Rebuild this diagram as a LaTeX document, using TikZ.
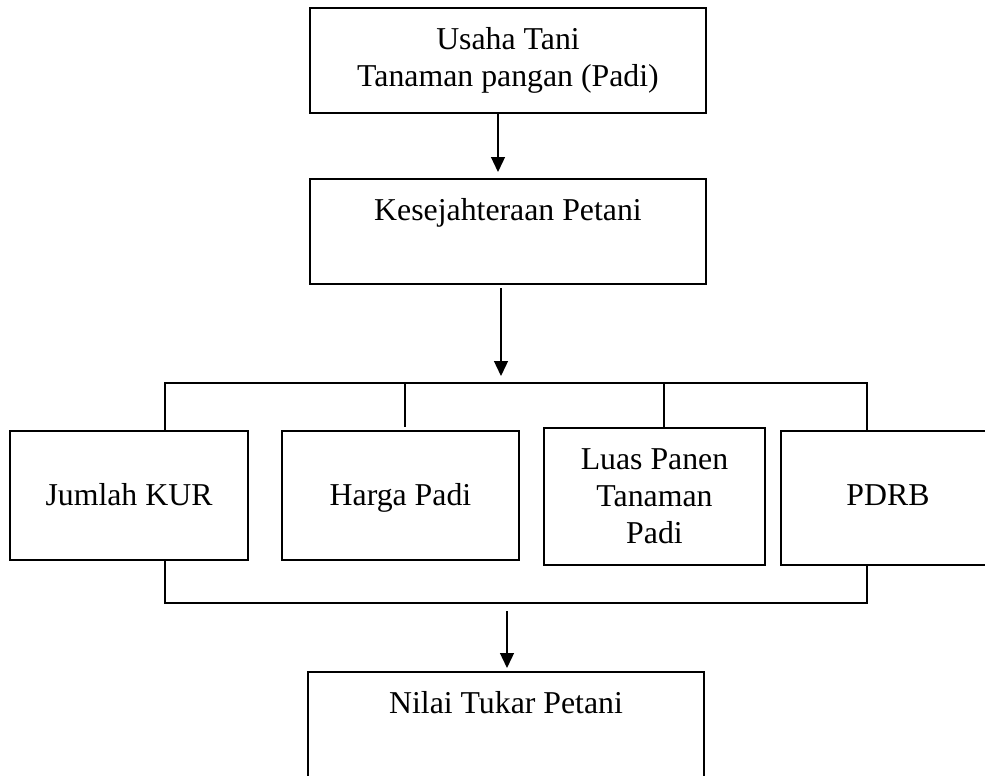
\documentclass[tikz,border=0pt]{standalone}
\usepackage{fontspec}
\setmainfont{Liberation Serif}
\usetikzlibrary{arrows.meta}
\begin{document}
\begin{tikzpicture}[x=1pt,y=-1pt,
  every node/.style={font=\fontsize{31.8}{37}\selectfont},
  box/.style={draw,line width=1.3pt,rectangle,inner sep=0pt,align=center},
  topbox/.style={draw,line width=1.3pt,rectangle,inner xsep=0pt,inner ysep=0pt,text height=41pt,text depth=64pt},
  conn/.style={line width=1.3pt},
  arr/.style={line width=1.3pt,-{Triangle[length=15pt,width=14pt]}}]
\useasboundingbox (0,0) rectangle (985,776);
\clip (0,0) rectangle (985,776);
% top boxes
\node[box,minimum width=396pt,minimum height=105pt] (b1) at (508,60.5) {Usaha Tani\\Tanaman pangan (Padi)};
\node[topbox,minimum width=396pt] (b2) at (508,231.5) {Kesejahteraan Petani};
% factor boxes
\node[box,minimum width=238pt,minimum height=129pt,text height=24pt,text depth=5pt] (k1) at (129,495.5) {Jumlah KUR};
\node[box,minimum width=237pt,minimum height=129pt,text height=24pt,text depth=5pt] (k2) at (400.5,495.5) {Harga Padi};
\node[box,minimum width=221pt,minimum height=137pt] (k3) at (654.5,496.5) {Luas Panen\\Tanaman\\Padi};
\node[box,minimum width=214pt,minimum height=134pt,text height=22pt,text depth=8pt] (k4) at (888,498) {PDRB};
% bottom box
\node[topbox,minimum width=396pt] (b3) at (506,724.5) {Nilai Tukar Petani};
% coordinates
\coordinate (tl) at (165,383);
\coordinate (tr) at (867,383);
\coordinate (bl) at (165,603);
\coordinate (br) at (867,603);
\coordinate (a2s) at (501,288);
\coordinate (a2e) at (501,376);
\coordinate (h2t) at (405,383);
\coordinate (h2b) at (405,427);
\coordinate (h3t) at (664,383);
\coordinate (a3s) at (507,611);
\coordinate (a3e) at (507,668);
\coordinate (a1s) at (498,113);
\coordinate (a1e) at (498,172);
% arrows
\draw[arr] (a1s) -- (a1e);
\draw[arr] (a2s) -- (a2e);
\draw[arr] (a3s) -- (a3e);
% top distribution
\draw[conn] (tl |- k1.north) -- (tl) -- (tr) -- (tr |- k4.north);
\draw[conn] (h2t) -- (h2b);
\draw[conn] (h3t) -- (h3t |- k3.north);
% bottom collection
\draw[conn] (bl |- k1.south) -- (bl) -- (br) -- (br |- k4.south);
\end{tikzpicture}
\end{document}
